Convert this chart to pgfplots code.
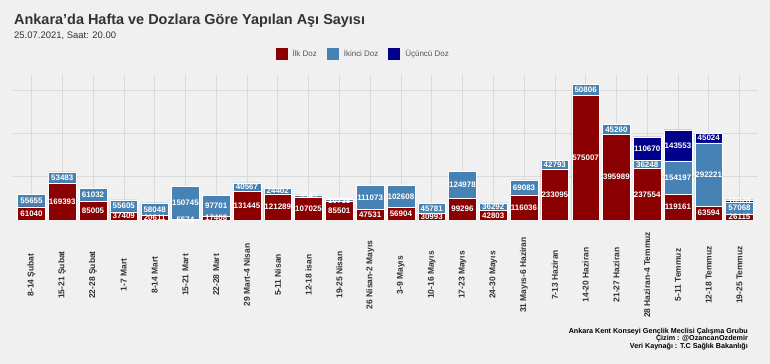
\documentclass[border=0pt]{standalone}
\usepackage{pgfplots}
\pgfplotsset{compat=1.18}
\usepackage{pgfplotstable}
\usepackage{fontspec}
\setmainfont{Liberation Sans}
\definecolor{bg}{HTML}{F0F0F0}
\definecolor{ilk}{HTML}{8B0000}
\definecolor{ikinci}{HTML}{4682B4}
\definecolor{ucuncu}{HTML}{00008B}
\definecolor{gridc}{HTML}{DADADA}
\definecolor{txt}{HTML}{333333}
\definecolor{legtxt}{HTML}{555555}

\pgfplotstableread{
x a b c
1 61040 55655 0
2 169393 53483 0
3 85005 61032 0
4 37409 55605 0
5 20611 58048 0
6 5574 150745 0
7 17408 97701 0
8 131445 40567 0
9 121289 24402 0
10 107025 9549 0
11 85501 10738 0
12 47531 111073 0
13 56904 102608 0
14 30993 45781 0
15 99296 124978 0
16 42803 36292 0
17 116036 69083 0
18 233095 42793 0
19 575007 50806 0
20 395989 45260 0
21 237554 36248 110670
22 119161 154197 143553
23 63594 292221 45024
24 26115 57068 10328
}\dosedata

\pgfplotstableread{
x a b c
21 237554 36248 110670
22 119161 154197 143553
23 63594 292221 45024
24 26115 57068 10328
}\thirddata

\pgfplotsset{
  myaxis/.style={
    scale only axis,
    width=745bp, height=145bp,
    at={(13bp,144bp)}, anchor=south west,
    xmin=0.4, xmax=24.6,
    ymin=0, ymax=670000,
    scaled y ticks=false,
  }
}

\begin{document}
\begin{tikzpicture}
\fill[bg] (0,0) rectangle (770bp,364bp);

\begin{axis}[myaxis,
  ybar stacked,
  bar width=0.9,
  axis line style={draw=none},
  major tick style={draw=none},
  xtick={1,...,24},
  xticklabels={8-14 Şubat,15-21 Şubat,22-28 Şubat,1-7 Mart,8-14 Mart,15-21 Mart,22-28 Mart,29 Mart-4 Nisan,5-11 Nisan,12-18 isan,19-25 Nisan,26 Nisan-2 Mayıs,3-9 Mayıs,10-16 Mayıs,17-23 Mayıs,24-30 Mayıs,31 Mayıs-6 Haziran,7-13 Haziran,14-20 Haziran,21-27 Haziran,28 Haziran-4 Temmuz,5-11 Temmuz,12-18 Temmuz,19-25 Temmuz},
  xticklabel style={rotate=90, anchor=center, font=\fontsize{8.5}{9}\selectfont\bfseries, text=txt},
  xticklabel shift=55bp,
  ytick={200000,400000,600000},
  yticklabels={},
  grid=major,
  major grid style={gridc, line width=0.6pt},
  legend style={at={(0.47,1.145)}, anchor=center, legend columns=3, draw=none, fill=none,
    font=\fontsize{8}{9}\selectfont, text=legtxt, inner sep=0pt,
    /tikz/every odd column/.append style={column sep=3bp},
    /tikz/every even column/.append style={column sep=8bp}},
  legend image code/.code={\draw[#1, draw=none] (0bp,-6bp) rectangle (12bp,6bp);},
]
\addplot[fill=ilk, draw=white, line width=0.5pt] table[x=x, y=a]{\dosedata};
\addplot[fill=ikinci, draw=white, line width=0.5pt] table[x=x, y=b]{\dosedata};
\addplot[fill=ucuncu, draw=white, line width=0.5pt] table[x=x, y=c]{\dosedata};
\legend{İlk Doz, İkinci Doz, Üçüncü Doz}
\end{axis}

\begin{axis}[myaxis, hide axis,
  nodes near coords,
  point meta=explicit symbolic,
  nodes near coords style={anchor=center, font=\fontsize{8}{8}\selectfont\bfseries, text=white, inner sep=0pt},
]
\addplot[draw=none, mark=none] table[x=x, y expr=\thisrow{a}/2, meta=a]{\dosedata};
\addplot[draw=none, mark=none] table[x=x, y expr=\thisrow{a}+\thisrow{b}/2, meta=b]{\dosedata};
\addplot[draw=none, mark=none] table[x=x, y expr=\thisrow{a}+\thisrow{b}+\thisrow{c}/2, meta=c]{\thirddata};
\end{axis}

\node[anchor=base west, text=txt, font=\fontsize{14.5}{16}\selectfont\bfseries, inner sep=0pt] at (14bp,339bp) {Ankara'da Hafta ve Dozlara Göre Yapılan Aşı Sayısı};
\node[anchor=base west, text=txt, font=\fontsize{9.5}{11}\selectfont, inner sep=0pt] at (14bp,325.5bp) {25.07.2021, Saat: 20.00};

\node[anchor=base east, text=black, font=\fontsize{7.2}{8}\selectfont\bfseries, inner sep=0pt] at (748bp,31bp) {Ankara Kent Konseyi Gençlik Meclisi Çalışma Grubu};
\node[anchor=base east, text=black, font=\fontsize{7.2}{8}\selectfont\bfseries, inner sep=0pt] at (748bp,23.3bp) {Çizim : @OzancanOzdemir};
\node[anchor=base east, text=black, font=\fontsize{7.2}{8}\selectfont\bfseries, inner sep=0pt] at (748bp,15.6bp) {Veri Kaynağı : T.C Sağlık Bakanlığı};

\pgfresetboundingbox
\path (0,0) rectangle (770bp,364bp);
\end{tikzpicture}
\end{document}
